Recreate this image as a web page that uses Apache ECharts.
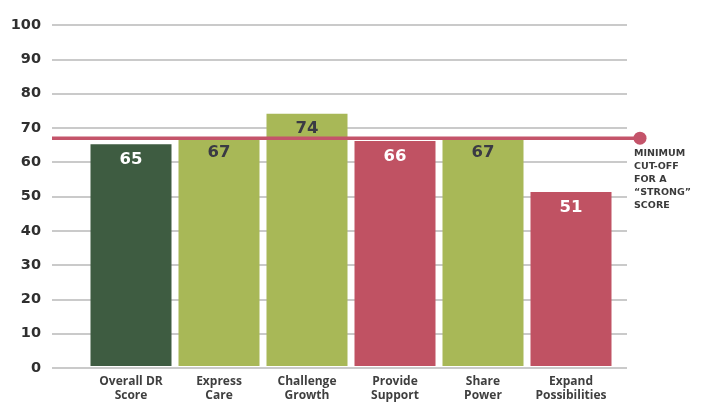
<!DOCTYPE html>
<html>
<head>
<meta charset="utf-8">
<script src="https://cdn.jsdelivr.net/npm/echarts@6/dist/echarts.min.js"></script>
<style>
html,body{margin:0;padding:0;background:#fff;}
#c{width:701px;height:403px;}
</style>
</head>
<body>
<div id="c"></div>
<script>
const categories = ['Overall DR\nScore', 'Express\nCare', 'Challenge\nGrowth', 'Provide\nSupport', 'Share\nPower', 'Expand\nPossibilities'];
const scores = [65, 67, 74, 66, 67, 51];
const cutoff = 67;
const yTicks = [0, 10, 20, 30, 40, 50, 60, 70, 80, 90, 100];
const noteText = 'MINIMUM\nCUT-OFF\nFOR A\n\u201CSTRONG\u201D\nSCORE';

const barStyles = [
  { fill: '#3e5c41', text: '#ffffff' },
  { fill: '#a8b857', text: '#3a3a44' },
  { fill: '#a8b857', text: '#3a3a44' },
  { fill: '#c05263', text: '#ffffff' },
  { fill: '#a8b857', text: '#3a3a44' },
  { fill: '#c05263', text: '#ffffff' }
];

const chart = echarts.init(document.getElementById('c'), null, { renderer: 'canvas' });
const font = '"Open Sans", Lato, sans-serif';
const wide = '"DejaVu Sans", sans-serif';
const yMin = yTicks[0], yMax = yTicks[yTicks.length - 1];

chart.setOption({
  animation: false,
  backgroundColor: '#ffffff',
  grid: [
    { left: 87, right: 86, top: 25, bottom: 35 },
    { left: 52, right: 74, top: 25, bottom: 35 },
    { left: 52, right: 61, top: 25, bottom: 35 }
  ],
  xAxis: [
    {
      type: 'category', gridIndex: 0, data: categories,
      axisLine: { show: false }, axisTick: { show: false },
      axisLabel: { interval: 0, margin: 9, fontFamily: font, fontWeight: 'bold', fontSize: 12, lineHeight: 14, color: '#3f3f3f' }
    },
    { type: 'value', gridIndex: 1, min: 0, max: 1, show: false },
    { type: 'value', gridIndex: 2, min: 0, max: 1, show: false }
  ],
  yAxis: [
    { type: 'value', gridIndex: 0, min: yMin, max: yMax, interval: 10, show: false },
    {
      type: 'value', gridIndex: 1, min: yMin, max: yMax, interval: 10,
      axisLine: { show: false }, axisTick: { show: false },
      axisLabel: { margin: 11, fontFamily: wide, fontWeight: 'bold', fontSize: 14.5, color: '#2f2f2f' },
      splitLine: { lineStyle: { color: '#b8b8b8', width: 1.5 } }
    },
    { type: 'value', gridIndex: 2, min: yMin, max: yMax, show: false }
  ],
  series: [
    {
      type: 'bar', xAxisIndex: 0, yAxisIndex: 0, barWidth: 81, z: 3,
      data: scores.map((v, i) => ({
        value: v,
        itemStyle: { color: barStyles[i].fill },
        label: { color: barStyles[i].text }
      })),
      label: { show: true, position: 'insideTop', distance: 7, fontFamily: wide, fontWeight: 'bold', fontSize: 16.5 }
    },
    {
      type: 'line', xAxisIndex: 2, yAxisIndex: 2, z: 5,
      lineStyle: { color: '#c4546a', width: 3.5 },
      itemStyle: { color: '#c4546a' },
      data: [
        { value: [0, cutoff], symbol: 'none' },
        { value: [1, cutoff], symbol: 'circle', symbolSize: 13 }
      ]
    }
  ],
  graphic: [
    {
      type: 'text', left: 634, top: 147,
      style: { text: noteText, fontFamily: wide, fontWeight: 'bold', fontSize: 9.5, lineHeight: 13, fill: '#3a3a3a' }
    }
  ]
});
</script>
</body>
</html>
